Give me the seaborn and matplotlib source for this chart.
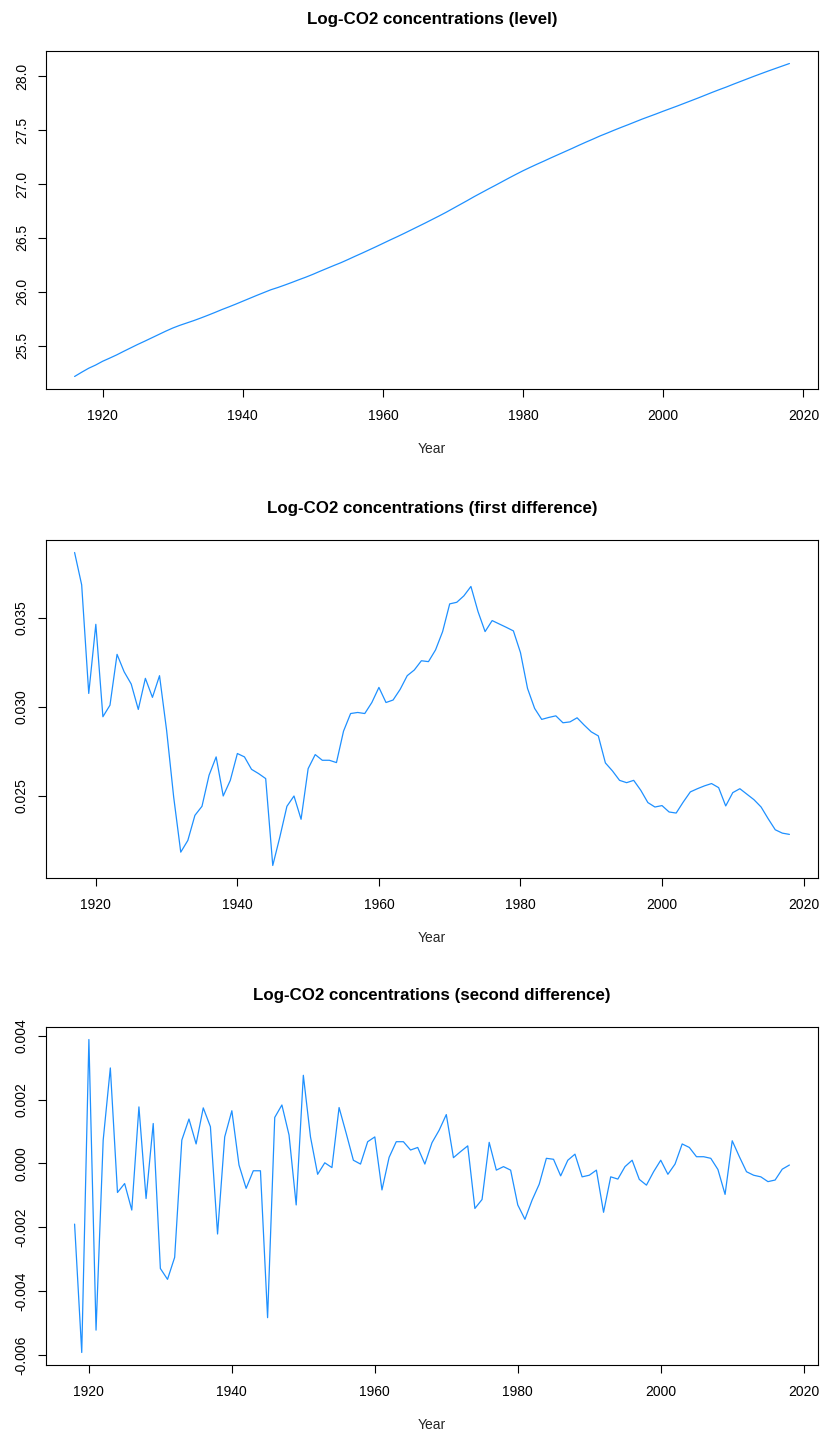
import numpy as np
import pandas as pd
import matplotlib
matplotlib.use("Agg")
import matplotlib.pyplot as plt
import seaborn as sns

# --- data ---
years_level = list(range(1916, 2019))
level = [
    25.215, 25.254, 25.291, 25.321, 25.356, 25.385, 25.415, 25.448, 25.480, 25.512,
    25.542, 25.573, 25.604, 25.635, 25.664, 25.689, 25.711, 25.733, 25.757, 25.782,
    25.808, 25.835, 25.860, 25.886, 25.913, 25.940, 25.967, 25.993, 26.019, 26.040,
    26.063, 26.087, 26.112, 26.136, 26.162, 26.190, 26.217, 26.244, 26.270, 26.299,
    26.329, 26.358, 26.388, 26.418, 26.449, 26.480, 26.510, 26.541, 26.573, 26.605,
    26.637, 26.670, 26.703, 26.737, 26.773, 26.809, 26.845, 26.882, 26.917, 26.952,
    26.986, 27.021, 27.056, 27.090, 27.123, 27.154, 27.184, 27.213, 27.243, 27.272,
    27.301, 27.330, 27.360, 27.389, 27.417, 27.446, 27.472, 27.499, 27.525, 27.550,
    27.576, 27.602, 27.626, 27.650, 27.675, 27.699, 27.723, 27.748, 27.773, 27.798,
    27.824, 27.850, 27.875, 27.899, 27.925, 27.950, 27.975, 28.000, 28.024, 28.048,
    28.071, 28.094, 28.117,
]

years_d1 = list(range(1917, 2019))
diff1 = [
    0.03868, 0.03686, 0.03075, 0.03464, 0.02944, 0.03009, 0.03295, 0.03197, 0.03128, 0.02985,
    0.03160, 0.03053, 0.03175, 0.02868, 0.02492, 0.02182, 0.02248, 0.02389, 0.02440, 0.02615,
    0.02718, 0.02498, 0.02586, 0.02737, 0.02718, 0.02648, 0.02624, 0.02596, 0.02107, 0.02267,
    0.02440, 0.02498, 0.02367, 0.02652, 0.02731, 0.02699, 0.02699, 0.02686, 0.02863, 0.02962,
    0.02968, 0.02962, 0.03024, 0.03109, 0.03024, 0.03038, 0.03098, 0.03175, 0.03207, 0.03259,
    0.03254, 0.03320, 0.03423, 0.03579, 0.03588, 0.03624, 0.03677, 0.03536, 0.03423, 0.03485,
    0.03466, 0.03447, 0.03427, 0.03305, 0.03103, 0.02991, 0.02929, 0.02940, 0.02949, 0.02910,
    0.02915, 0.02938, 0.02897, 0.02859, 0.02836, 0.02684, 0.02639, 0.02586, 0.02573, 0.02586,
    0.02530, 0.02461, 0.02436, 0.02444, 0.02408, 0.02402, 0.02464, 0.02521, 0.02539, 0.02555,
    0.02568, 0.02545, 0.02442, 0.02517, 0.02539, 0.02508, 0.02477, 0.02436, 0.02370, 0.02308,
    0.02289, 0.02282,
]

years_d2 = list(range(1918, 2019))
diff2 = [
    -0.00190, -0.00592, 0.00388, -0.00522, 0.00073, 0.00299, -0.00091, -0.00063, -0.00146, 0.00177,
    -0.00110, 0.00125, -0.00329, -0.00363, -0.00294, 0.00073, 0.00139, 0.00061, 0.00174, 0.00115,
    -0.00221, 0.00083, 0.00165, -0.00005, -0.00078, -0.00023, -0.00023, -0.00483, 0.00144, 0.00183,
    0.00089, -0.00130, 0.00276, 0.00083, -0.00034, 0.00002, -0.00013, 0.00175, 0.00094, 0.00010,
    -0.00002, 0.00068, 0.00083, -0.00083, 0.00019, 0.00068, 0.00068, 0.00042, 0.00050, -0.00002,
    0.00065, 0.00104, 0.00153, 0.00018, 0.00037, 0.00055, -0.00141, -0.00113, 0.00066, -0.00021,
    -0.00010, -0.00021, -0.00130, -0.00175, -0.00115, -0.00065, 0.00016, 0.00013, -0.00039, 0.00010,
    0.00029, -0.00042, -0.00037, -0.00021, -0.00153, -0.00042, -0.00049, -0.00010, 0.00010, -0.00050,
    -0.00068, -0.00026, 0.00010, -0.00034, -0.00002, 0.00061, 0.00050, 0.00021, 0.00021, 0.00016,
    -0.00019, -0.00097, 0.00071, 0.00021, -0.00026, -0.00037, -0.00042, -0.00057, -0.00052, -0.00018,
    -0.00005,
]

titles = [
    "Log-CO2 concentrations (level)",
    "Log-CO2 concentrations (first difference)",
    "Log-CO2 concentrations (second difference)",
]
x_ticks = [1920, 1940, 1960, 1980, 2000, 2020]
y_ticks = [
    [25.5, 26.0, 26.5, 27.0, 27.5, 28.0],
    [0.025, 0.030, 0.035],
    [-0.006, -0.004, -0.002, 0.000, 0.002, 0.004],
]
y_labels = [
    ["25.5", "26.0", "26.5", "27.0", "27.5", "28.0"],
    ["0.025", "0.030", "0.035"],
    ["-0.006", "-0.004", "-0.002", "0.000", "0.002", "0.004"],
]

# --- style ---
sns.set_theme(style="white")
plt.rcParams.update({
    "font.family": ["Liberation Sans", "DejaVu Sans"],
    "axes.unicode_minus": False,
    "axes.edgecolor": "black",
    "axes.linewidth": 0.8,
    "xtick.color": "black",
    "ytick.color": "black",
    "text.color": "black",
})

line_color = "#1E90FF"

fig = plt.figure(figsize=(8.21, 14.39), dpi=100)
W, H = 821, 1439
boxes = [(51, 389), (540, 878), (1027, 1365)]
series = [(years_level, level), (years_d1, diff1), (years_d2, diff2)]

for i, ((top, bottom), (xs, ys)) in enumerate(zip(boxes, series)):
    ax = fig.add_axes([46 / W, 1 - bottom / H, 772 / W, (bottom - top) / H])
    df = pd.DataFrame({"Year": xs, "value": ys})
    sns.lineplot(data=df, x="Year", y="value", ax=ax, color=line_color, linewidth=0.9)
    ax.margins(x=0.04, y=0.04)

    ax.set_xticks(x_ticks)
    ax.set_xticklabels([str(t) for t in x_ticks])
    ax.set_yticks(y_ticks[i])
    ax.set_yticklabels(y_labels[i])
    for lab in ax.get_yticklabels():
        lab.set_rotation(90)
        lab.set_va("center")

    ax.tick_params(axis="both", which="major", direction="out", length=5.6,
                   width=0.8, labelsize=10, bottom=True, left=True)
    ax.tick_params(axis="x", pad=8.5)
    ax.tick_params(axis="y", pad=6.8)

    ax.set_xlabel("Year", fontsize=10, labelpad=14)
    ax.set_ylabel("")
    ax.set_title(titles[i], fontsize=12.2, fontweight="bold", pad=19.5)
    ax.grid(False)
    for sp in ax.spines.values():
        sp.set_visible(True)
        sp.set_color("black")
        sp.set_linewidth(0.8)

fig.savefig("out.png", dpi=100)
